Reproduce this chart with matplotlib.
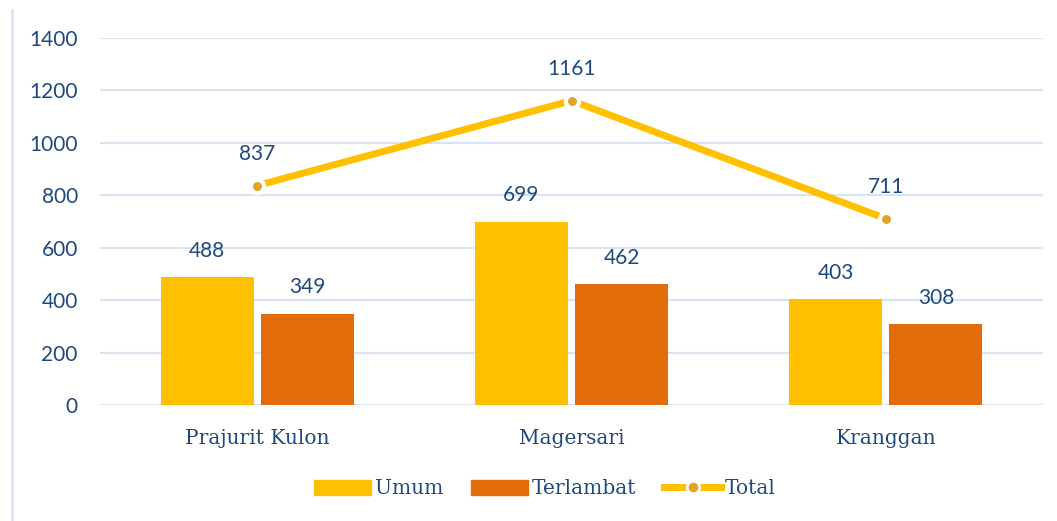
import matplotlib
matplotlib.use("Agg")
import matplotlib.pyplot as plt
from matplotlib.lines import Line2D
from matplotlib.patches import Patch
import numpy as np

categories = ["Prajurit Kulon", "Magersari", "Kranggan"]
umum = [488, 699, 403]
terlambat = [349, 462, 308]
total = [837, 1161, 711]
yticks = [0, 200, 400, 600, 800, 1000, 1200, 1400]

C_UMUM = "#FFC000"
C_TERL = "#E36C0A"
C_MARK = "#E0A526"
C_TEXT = "#1F497D"
C_GRID = "#D9E3F2"

fig = plt.figure(figsize=(10.57, 5.21), dpi=100)
ax = fig.add_axes([100 / 1057, 1 - 405 / 521, 943 / 1057, 367 / 521])

x = np.arange(len(categories))
bw = 0.296
off = 0.159
ax.bar(x - off, umum, bw, color=C_UMUM, zorder=2)
ax.bar(x + off, terlambat, bw, color=C_TERL, zorder=2)
ax.plot(x, total, color=C_UMUM, lw=5, zorder=3, solid_capstyle="butt")
ax.plot(x, total, "o", ms=9.5, color=C_MARK, mec="white", mew=3, zorder=4)

num_font = dict(family="Lato", size=15, color=C_TEXT)
for i in range(len(categories)):
    ax.annotate(str(umum[i]), (x[i] - off, umum[i]), xytext=(0, 19),
                textcoords="offset points", ha="center", va="center", **num_font)
    ax.annotate(str(terlambat[i]), (x[i] + off, terlambat[i]), xytext=(0, 19),
                textcoords="offset points", ha="center", va="center", **num_font)
    ax.annotate(str(total[i]), (x[i], total[i]), xytext=(0, 23),
                textcoords="offset points", ha="center", va="center", **num_font)

ax.set_xlim(-0.5, 2.5)
ax.set_ylim(0, 1400)
ax.set_yticks(yticks)
ax.set_yticklabels([str(v) for v in yticks], **num_font)
ax.set_xticks(x)
ax.set_xticklabels(categories, family="DejaVu Serif", size=14.5, color=C_TEXT)
ax.tick_params(axis="both", length=0)
ax.tick_params(axis="y", pad=16)
ax.tick_params(axis="x", pad=17)
ax.grid(axis="y", color=C_GRID, lw=1.5, zorder=0)
for s in ax.spines.values():
    s.set_visible(False)

handles = [
    Patch(color=C_UMUM, label="Umum"),
    Patch(color=C_TERL, label="Terlambat"),
    Line2D([0], [0], color=C_UMUM, lw=5, marker="o", ms=9, mfc=C_MARK,
           mec="white", mew=2, label="Total"),
]
fig.legend(handles=handles, loc="center", bbox_to_anchor=(545 / 1057, 1 - 489 / 521),
           ncol=3, frameon=False, handlelength=2.8, handleheight=0.7,
           handletextpad=0.2, columnspacing=1.4,
           prop=dict(family="DejaVu Serif", size=14.5), labelcolor=C_TEXT)

fig.add_artist(Line2D([12 / 1057, 12 / 1057], [0, 1 - 10 / 521],
                      transform=fig.transFigure, color=C_GRID, lw=1.8))

fig.savefig("out.png", dpi=100)
